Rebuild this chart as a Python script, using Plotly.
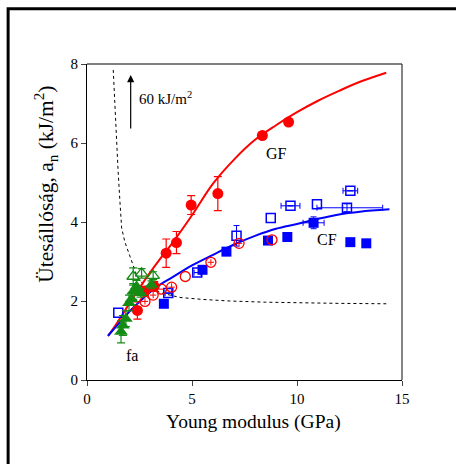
import plotly.graph_objects as go

# ---- data ----
# GF: red filled circles
gf_x = [2.4, 2.75, 3.2, 3.77, 4.26, 4.96, 6.23, 8.35, 9.6]
gf_y = [1.76, 2.25, 2.37, 3.21, 3.48, 4.43, 4.72, 6.19, 6.53]
gf_yerr = [0.22, 0.12, 0.12, 0.36, 0.28, 0.24, 0.43, 0, 0]

# red open circles
ro_x = [2.76, 3.15, 3.55, 4.03, 4.68, 5.9, 7.24, 8.81]
ro_y = [1.99, 2.15, 2.3, 2.35, 2.62, 2.98, 3.46, 3.55]
ro_xerr = [0.15, 0.15, 0.12, 0.15, 0, 0.15, 0.15, 0]
ro_yerr = [0.08, 0.08, 0, 0.1, 0, 0.08, 0.08, 0]

# CF: blue filled squares
bf_x = [3.66, 5.5, 6.64, 8.62, 9.54, 10.79, 12.54, 13.3]
bf_y = [1.93, 2.79, 3.25, 3.53, 3.62, 3.98, 3.49, 3.46]
bf_xerr = [0, 0, 0, 0, 0, 0.5, 0, 0.15]
bf_yerr = [0, 0, 0, 0, 0, 0.15, 0, 0]

# blue open squares
bo_x = [1.49, 3.87, 5.25, 7.12, 8.75, 9.69, 10.95, 12.38, 12.54]
bo_y = [1.70, 2.2, 2.72, 3.65, 4.1, 4.41, 4.45, 4.36, 4.79]
bo_yerr = [0, 0, 0, 0.26, 0, 0, 0, 0.1, 0]
bo_xerr_plus = [0, 0.15, 0.15, 0, 0, 0.45, 0, 1.7, 0.35]
bo_xerr_minus = [0, 0.15, 0.15, 0, 0, 0.45, 0, 1.43, 0.35]

# fa: green filled triangles
gt_x = [1.62, 1.71, 1.85, 2.0, 2.12, 2.2, 2.36, 2.55, 3.07]
gt_y = [1.22, 1.38, 1.55, 1.95, 2.05, 2.24, 2.37, 2.2, 2.41]
gt_yerr = [0.28, 0.25, 0.2, 0.2, 0.15, 0.2, 0.15, 0.1, 0.1]

# green open triangles
go_x = [2.2, 2.6, 3.15]
go_y = [2.62, 2.7, 2.64]
go_yerr = [0.22, 0.12, 0.1]

# fitted curves
gf_fit_x = [1.0, 1.5, 2.0, 2.5, 3.0, 3.5, 4.0, 5.0, 6.0, 7.0, 8.0, 9.0, 10.0, 11.0, 12.0, 13.0, 14.25]
gf_fit_y = [1.11, 1.5, 1.92, 2.33, 2.72, 3.08, 3.42, 4.17, 4.97, 5.58, 6.08, 6.45, 6.78, 7.07, 7.32, 7.55, 7.78]
cf_fit_x = [1.0, 1.5, 2.0, 2.5, 3.0, 3.5, 4.0, 5.0, 6.0, 7.0, 8.0, 9.0, 10.0, 11.0, 12.0, 13.0, 14.4]
cf_fit_y = [1.12, 1.42, 1.72, 1.98, 2.22, 2.42, 2.58, 2.9, 3.17, 3.43, 3.65, 3.83, 3.95, 4.08, 4.19, 4.26, 4.32]

# dotted reference curve
dot_x = [1.25, 1.3, 1.38, 1.48, 1.57, 1.65, 1.8, 1.96, 2.12, 2.36, 2.68, 3.0, 3.63, 4.42, 5.5, 6.8, 8.5, 10.1, 12.0, 14.25]
dot_y = [7.85, 7.2, 6.3, 5.3, 4.5, 3.85, 3.5, 3.25, 3.04, 2.66, 2.42, 2.32, 2.19, 2.09, 2.04, 2.0, 1.97, 1.95, 1.94, 1.93]

RED = "#ff0000"
BLUE = "#0000ff"
GREEN = "#148c14"
FONT = "Liberation Serif"


def split(mask_vals, *cols):
    """Split columns into (with-error, without-error) groups."""
    has = [i for i, v in enumerate(mask_vals) if v]
    no = [i for i, v in enumerate(mask_vals) if not v]
    return ([[c[i] for i in has] for c in cols], [[c[i] for i in no] for c in cols])


def nz(v):
    return v if v else None


fig = go.Figure()

fig.add_trace(go.Scatter(x=dot_x, y=dot_y, mode="lines",
                         line=dict(color="black", width=1, dash="dot"), hoverinfo="skip"))
fig.add_trace(go.Scatter(x=gf_fit_x, y=gf_fit_y, mode="lines", line_shape="spline",
                         line=dict(color=RED, width=2)))
fig.add_trace(go.Scatter(x=cf_fit_x, y=cf_fit_y, mode="lines", line_shape="spline",
                         line=dict(color=BLUE, width=2)))

# blue open squares: separate those with and without error bars
bo_mask = [bool(a or b) for a, b in zip(bo_yerr, bo_xerr_plus)]
(bo_e, bo_n) = split(bo_mask, bo_x, bo_y, bo_yerr, bo_xerr_plus, bo_xerr_minus)
sq_open = dict(symbol="square-open", size=9, color=BLUE, line=dict(width=1.5))
fig.add_trace(go.Scatter(x=bo_n[0], y=bo_n[1], mode="markers", marker=sq_open))
fig.add_trace(go.Scatter(x=bo_e[0], y=bo_e[1], mode="markers", marker=sq_open,
                         error_y=dict(type="data", array=[nz(v) for v in bo_e[2]], color=BLUE, thickness=1, width=3),
                         error_x=dict(type="data", array=[nz(v) for v in bo_e[3]],
                                      arrayminus=[nz(v) for v in bo_e[4]],
                                      symmetric=False, color=BLUE, thickness=1, width=3)))
fig.add_trace(go.Scatter(x=bf_x, y=bf_y, mode="markers",
                         marker=dict(symbol="square", size=10, color=BLUE),
                         error_y=dict(type="data", array=bf_yerr, color=BLUE, thickness=1, width=3),
                         error_x=dict(type="data", array=bf_xerr, color=BLUE, thickness=1, width=3)))
fig.add_trace(go.Scatter(x=ro_x, y=ro_y, mode="markers",
                         marker=dict(symbol="circle-open", size=10, color=RED, line=dict(width=1.3)),
                         error_y=dict(type="data", array=ro_yerr, color=RED, thickness=1, width=0),
                         error_x=dict(type="data", array=ro_xerr, color=RED, thickness=1, width=0)))
fig.add_trace(go.Scatter(x=gf_x, y=gf_y, mode="markers",
                         marker=dict(symbol="circle", size=11, color=RED),
                         error_y=dict(type="data", array=gf_yerr, color=RED, thickness=1.2, width=4)))
fig.add_trace(go.Scatter(x=go_x, y=go_y, mode="markers",
                         marker=dict(symbol="triangle-up-open", size=11, color=GREEN, line=dict(width=1.3)),
                         error_y=dict(type="data", array=go_yerr, color=GREEN, thickness=1.2, width=4)))
fig.add_trace(go.Scatter(x=gt_x, y=gt_y, mode="markers",
                         marker=dict(symbol="triangle-up", size=12, color=GREEN),
                         error_y=dict(type="data", array=gt_yerr, color=GREEN, thickness=1.2, width=4)))

# annotations
fig.add_annotation(x=9.02, y=5.74, text="GF", showarrow=False,
                   font=dict(family=FONT, size=16, color="black"))
fig.add_annotation(x=11.43, y=3.55, text="CF", showarrow=False,
                   font=dict(family=FONT, size=16, color="black"))
fig.add_annotation(x=2.12, y=0.62, text="fa", showarrow=False,
                   font=dict(family=FONT, size=16, color="black"))
fig.add_annotation(x=2.4, y=7.13, text="60 kJ/m<sup>2</sup>", showarrow=False, xanchor="left",
                   font=dict(family=FONT, size=15, color="black"))
fig.add_annotation(x=2.08, y=7.72, ax=2.08, ay=6.33, xref="x", yref="y", axref="x", ayref="y",
                   text="", showarrow=True, arrowhead=2, arrowsize=1.2, arrowwidth=1.2,
                   arrowcolor="black")
# axis titles
fig.add_annotation(xref="paper", yref="paper", x=-0.13, y=0.618, textangle=-90,
                   xanchor="center", yanchor="middle",
                   text="Ütesállóság, a<sub>n</sub> (kJ/m<sup>2</sup>)", showarrow=False,
                   font=dict(family=FONT, size=21.5, color="black"))
fig.add_annotation(xref="paper", yref="paper", x=0.529, y=-0.134,
                   xanchor="center", yanchor="middle",
                   text="Young modulus (GPa)", showarrow=False,
                   font=dict(family=FONT, size=19.5, color="black"))

# top and right frame lines (gray)
fig.add_shape(type="line", xref="paper", yref="paper", x0=0, x1=1, y0=1, y1=1,
              line=dict(color="#555555", width=1.5))
fig.add_shape(type="line", xref="paper", yref="paper", x0=1, x1=1, y0=0, y1=1,
              line=dict(color="#333333", width=1.2))
# outer frame
fig.add_shape(type="rect", xref="paper", yref="paper", x0=-0.2504, x1=1.3, y0=-0.4, y1=1.175,
              line=dict(color="black", width=3))

fig.update_layout(
    width=456, height=464,
    margin=dict(l=87, r=53.5, t=63.5, b=83.5),
    paper_bgcolor="white", plot_bgcolor="white",
    showlegend=False,
    font=dict(family=FONT, size=14, color="black"),
    xaxis=dict(range=[0, 15], tickvals=[0, 5, 10, 15], ticks="outside", ticklen=5,
               showline=True, linecolor="black", linewidth=1, showgrid=False, zeroline=False,
               tickfont=dict(family=FONT, size=15)),
    yaxis=dict(range=[0, 8], tickvals=[0, 2, 4, 6, 8], ticks="outside", ticklen=5,
               showline=True, linecolor="black", linewidth=1, showgrid=False, zeroline=False,
               tickfont=dict(family=FONT, size=15)),
)

fig.write_html("out.html")
